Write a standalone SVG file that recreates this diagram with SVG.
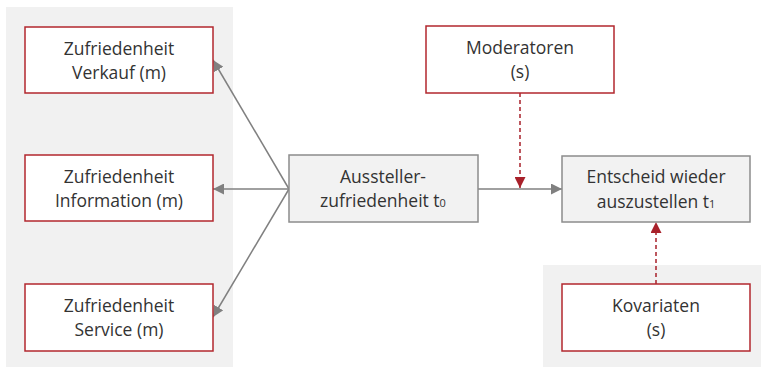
<svg xmlns="http://www.w3.org/2000/svg" width="761" height="367" viewBox="0 0 761 367">
<style>
.panel{fill:#f1f1f1;stroke:none}
.rbox{fill:#ffffff;stroke:#b2272e;stroke-width:1.5}
.gbox{fill:#f2f2f2;stroke:#8c8c8c;stroke-width:1.5}
text{font-family:"Open Sans","Noto Sans",sans-serif;font-size:17.5px;fill:#333333;text-anchor:middle}
.sub{font-size:11px}
.gl{stroke:#808080;stroke-width:1.5;fill:none}
.rl{stroke:#a8202a;stroke-width:1.5;fill:none;stroke-dasharray:4 3}
</style>
<defs>
<marker id="ga" viewBox="0 0 10 10" refX="10" refY="5" markerWidth="11" markerHeight="11" markerUnits="userSpaceOnUse" orient="auto"><path d="M0,0 L10,5 L0,10 z" fill="#808080"/></marker>
<marker id="ra" viewBox="0 0 10 10" refX="10" refY="5" markerWidth="11" markerHeight="11" markerUnits="userSpaceOnUse" orient="auto"><path d="M0,0 L10,5 L0,10 z" fill="#a8202a"/></marker>
</defs>
<rect class="panel" x="6" y="7" width="227" height="360"/>
<rect class="panel" x="543" y="265" width="218" height="102"/>
<g id="connectors">
<line class="gl" x1="289" y1="189" x2="213" y2="60" marker-end="url(#ga)"/>
<line class="gl" x1="289" y1="189" x2="213" y2="189" marker-end="url(#ga)"/>
<line class="gl" x1="289" y1="189" x2="213" y2="317" marker-end="url(#ga)"/>
<line class="gl" x1="478" y1="189" x2="562" y2="189" marker-end="url(#ga)"/>
<line class="rl" x1="520" y1="93" x2="520" y2="188" marker-end="url(#ra)"/>
<line class="rl" x1="656" y1="284" x2="656" y2="222" marker-end="url(#ra)"/>
</g>
<g id="verkauf"><rect class="rbox" x="25" y="27" width="188" height="66"/><text x="119" y="55">Zufriedenheit</text><text x="119" y="79">Verkauf (m)</text></g>
<g id="information"><rect class="rbox" x="25" y="155" width="188" height="66"/><text x="119" y="183">Zufriedenheit</text><text x="119" y="207">Information (m)</text></g>
<g id="service"><rect class="rbox" x="25" y="284" width="188" height="67"/><text x="119" y="312">Zufriedenheit</text><text x="119" y="336">Service (m)</text></g>
<g id="aussteller"><rect class="gbox" x="289" y="155" width="189" height="67"/><text x="383" y="183">Aussteller-</text><text x="383" y="207">zufriedenheit t<tspan class="sub">0</tspan></text></g>
<g id="moderatoren"><rect class="rbox" x="426" y="26" width="188" height="67"/><text x="520" y="54">Moderatoren</text><text x="520" y="78">(s)</text></g>
<g id="entscheid"><rect class="gbox" x="562" y="156" width="188" height="66"/><text x="656" y="183">Entscheid wieder</text><text x="656" y="208">auszustellen t<tspan class="sub">1</tspan></text></g>
<g id="kovariaten"><rect class="rbox" x="562" y="284" width="188" height="67"/><text x="656" y="312">Kovariaten</text><text x="656" y="336">(s)</text></g>
</svg>
